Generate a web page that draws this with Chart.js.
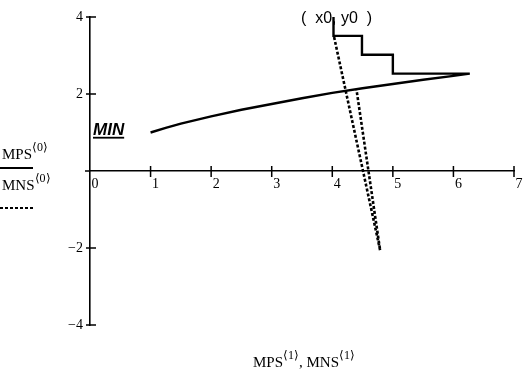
<!DOCTYPE html>
<html>
<head>
<meta charset="utf-8">
<script src="https://cdn.jsdelivr.net/npm/chart.js@4.4.1/dist/chart.umd.min.js"></script>
<style>
  html, body { margin: 0; padding: 0; background: #fff; }
</style>
</head>
<body>
<canvas id="plot" width="529" height="389"></canvas>
<script>
// tick values
const xTicks = [0, 1, 2, 3, 4, 5, 6, 7];
const yTicks = [-4, -2, 2, 4];

// MPS trace: rising curve, then staircase back up to (x0, y0)
const mpsX = [1, 1.25, 1.5, 2, 2.5, 3, 3.5, 4, 4.5, 5, 5.5, 6, 6.27, 5, 5, 4.49, 4.49, 4.02, 4.02];
const mpsY = [1.0, 1.12, 1.23, 1.42, 1.59, 1.74, 1.89, 2.03, 2.15, 2.26, 2.37, 2.47, 2.53, 2.53, 3.02, 3.02, 3.51, 3.51, 4.0];

// MNS trace (dashed)
const mnsX = [4.03, 4.79, 4.40];
const mnsY = [3.48, -2.06, 2.11];

const toPts = (xs, ys) => xs.map((x, i) => ({x: x, y: ys[i]}));
const minus = v => v < 0 ? '\u2212' + Math.abs(v) : String(v);

// text with a raised "<n>" superscript, returns end x
function supText(ctx, x, y, base, sup) {
  ctx.font = '15px "Liberation Serif"';
  ctx.fillText(base, x, y);
  x += ctx.measureText(base).width;
  ctx.font = '12px "Liberation Serif"';
  ctx.fillText('\u27E8' + sup + '\u27E9', x, y - 8);
  return x + ctx.measureText('\u27E8' + sup + '\u27E9').width;
}

const decor = {
  id: 'decor',
  afterDraw(chart) {
    const ctx = chart.ctx;
    const xs = chart.scales.x, ys = chart.scales.y;
    const ox = xs.getPixelForValue(0), oy = ys.getPixelForValue(0);
    ctx.save();
    ctx.strokeStyle = '#000';
    ctx.fillStyle = '#000';
    ctx.lineWidth = 1.5;

    // crossing tick marks
    ctx.beginPath();
    ctx.moveTo(ox - 5, oy); ctx.lineTo(ox, oy);
    xTicks.forEach(v => {
      if (v === 0) return;
      const px = xs.getPixelForValue(v);
      ctx.moveTo(px, oy - 5); ctx.lineTo(px, oy + 6);
    });
    yTicks.forEach(v => {
      const py = ys.getPixelForValue(v);
      ctx.moveTo(ox - 4, py); ctx.lineTo(ox + 6, py);
    });
    ctx.stroke();

    // (x0, y0) label
    ctx.font = '16px "Liberation Sans"';
    ctx.textAlign = 'center';
    ctx.textBaseline = 'alphabetic';
    ctx.fillText('(  x0, y0  )', xs.getPixelForValue(4.07), ys.getPixelForValue(3.84));

    // MIN label
    ctx.textAlign = 'left';
    ctx.font = 'italic bold 17px "Liberation Sans"';
    const mx = ox + 3, my = ys.getPixelForValue(0.94);
    ctx.fillText('MIN', mx, my);
    const mw = ctx.measureText('MIN').width;
    ctx.fillRect(mx, my + 2, mw, 1.8);

    // left-hand legend (y titles)
    supText(ctx, 2, 159, 'MPS', '0');
    ctx.lineWidth = 2.2;
    ctx.beginPath(); ctx.moveTo(0, 168); ctx.lineTo(33, 168); ctx.stroke();
    supText(ctx, 2, 190, 'MNS', '0');
    ctx.setLineDash([3, 2]);
    ctx.beginPath(); ctx.moveTo(0, 208); ctx.lineTo(33, 208); ctx.stroke();
    ctx.setLineDash([]);

    // bottom title
    let bx = supText(ctx, 253, 367, 'MPS', '1');
    supText(ctx, bx, 367, ', MNS', '1');
    ctx.restore();
  }
};

new Chart(document.getElementById('plot'), {
  type: 'scatter',
  data: {
    datasets: [
      {label: 'MPS', data: toPts(mpsX, mpsY), showLine: true, borderColor: '#000',
       borderWidth: 2.4, pointRadius: 0, fill: false},
      {label: 'MNS', data: toPts(mnsX, mnsY), showLine: true, borderColor: '#000',
       borderWidth: 2.6, borderDash: [3, 2], pointRadius: 0, fill: false}
    ]
  },
  options: {
    responsive: false,
    animation: false,
    layout: {padding: {left: 50, right: 15, top: 17, bottom: 64}},
    plugins: {legend: {display: false}, tooltip: {enabled: false}},
    scales: {
      x: {
        type: 'linear', min: 0, max: 7, position: {y: 0},
        afterBuildTicks: s => { s.ticks = xTicks.map(v => ({value: v})); },
        grid: {display: false, drawTicks: false},
        border: {color: '#000', width: 1.6},
        ticks: {padding: 5, labelOffset: 5, color: '#000', autoSkip: false, maxRotation: 0,
                font: {family: 'Liberation Serif', size: 14}}
      },
      y: {
        type: 'linear', min: -4, max: 4, position: 'left',
        afterBuildTicks: s => { s.ticks = yTicks.map(v => ({value: v})); },
        afterFit: s => { s.width = 40; },
        grid: {display: false, drawTicks: false},
        border: {color: '#000', width: 1.6},
        ticks: {padding: 7, color: '#000', callback: v => minus(v),
                font: {family: 'Liberation Serif', size: 14}}
      }
    }
  },
  plugins: [decor]
});
</script>
</body>
</html>
